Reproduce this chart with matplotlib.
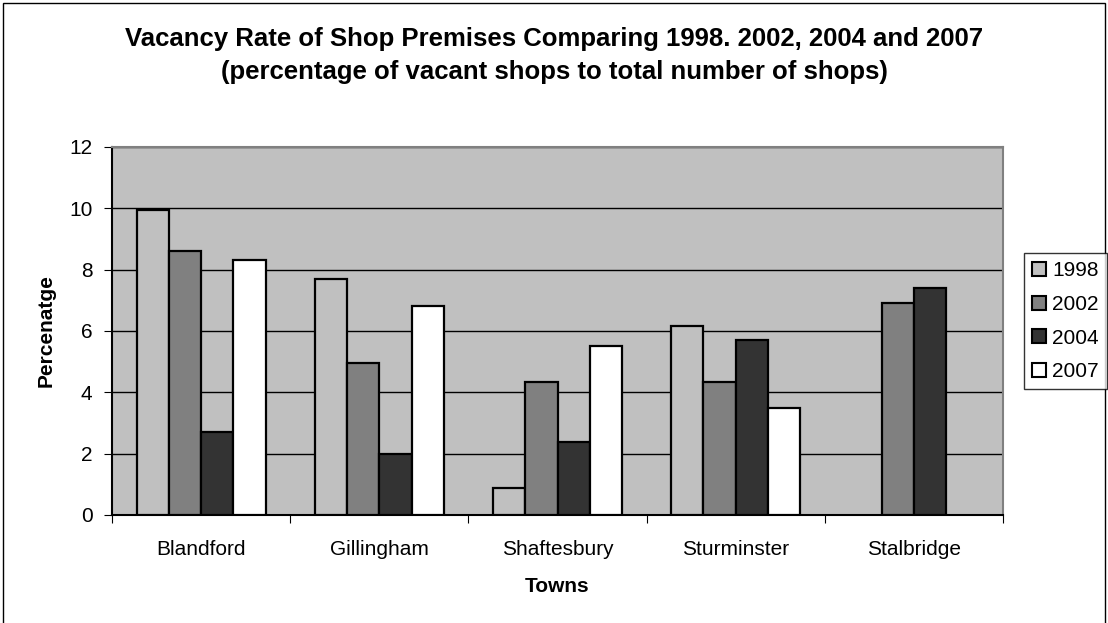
import numpy as np
import matplotlib
matplotlib.use("Agg")
import matplotlib.pyplot as plt
from matplotlib.patches import Rectangle, Patch

plt.rcParams['font.family'] = ['Liberation Sans', 'DejaVu Sans']

towns = ["Blandford", "Gillingham", "Shaftesbury", "Sturminster", "Stalbridge"]
years = ["1998", "2002", "2004", "2007"]
v1998 = [9.95, 7.7, 0.88, 6.15, np.nan]
v2002 = [8.6, 4.95, 4.35, 4.35, 6.9]
v2004 = [2.72, 1.98, 2.38, 5.7, 7.4]
v2007 = [8.3, 6.8, 5.5, 3.48, np.nan]
series = [v1998, v2002, v2004, v2007]
colors = ["#C0C0C0", "#808080", "#333333", "#FFFFFF"]
yticks = [0, 2, 4, 6, 8, 10, 12]

W, H = 1108, 623
fig = plt.figure(figsize=(W / 100, H / 100), dpi=100)
ax = fig.add_axes([112 / W, 1 - 515 / H, (1003 - 112) / W, (515 - 147) / H])
ax.set_facecolor("#C0C0C0")

n = len(series)
bw = 0.181
x = np.arange(len(towns))
for i, (vals, c) in enumerate(zip(series, colors)):
    offs = (i - (n - 1) / 2) * bw
    ax.bar(x + offs, vals, width=bw, color=c, edgecolor="black", linewidth=1.6, zorder=3)

fs = 15
ax.set_xlim(-0.5, len(towns) - 0.5)
ax.set_ylim(0, 12)
ax.set_yticks(yticks)
ax.set_yticklabels([str(t) for t in yticks], fontsize=fs)
ax.set_xticks(np.arange(len(towns) + 1) - 0.5)
ax.set_xticklabels([])
ax.set_xticks(x, minor=True)
ax.set_xticklabels(towns, minor=True, fontsize=fs)
ax.tick_params(axis="x", which="minor", length=0, pad=18)
ax.tick_params(axis="x", which="major", length=6, direction="out", color="black")
ax.tick_params(axis="y", length=6, direction="out", pad=8)
ax.yaxis.grid(True, color="black", linewidth=1.0, zorder=0)
ax.set_axisbelow(True)
ax.spines["left"].set_color("black")
ax.spines["bottom"].set_color("black")
ax.spines["top"].set_color("#808080")
ax.spines["right"].set_color("#808080")
for s in ax.spines.values():
    s.set_linewidth(1.5)

ax.set_xlabel("Towns", fontsize=fs, fontweight="bold", labelpad=13)
ax.set_ylabel("Percenatge", fontsize=fs, fontweight="bold", labelpad=10)

fig.text(0.5, 1 - 46 / H, "Vacancy Rate of Shop Premises Comparing 1998. 2002, 2004 and 2007",
         ha="center", va="baseline", fontsize=18.5, fontweight="bold")
fig.text(0.5, 1 - 79 / H, "(percentage of vacant shops to total number of shops)",
         ha="center", va="baseline", fontsize=18.5, fontweight="bold")

handles = [Patch(facecolor=c, edgecolor="black", linewidth=1.5) for c in colors]
leg = fig.legend(handles, years, loc="upper left", bbox_to_anchor=(1024 / W, 1 - 253 / H),
                 fontsize=15, frameon=True, fancybox=False, edgecolor="black",
                 handlelength=0.65, handleheight=0.65, handletextpad=0.3,
                 borderpad=0.4, labelspacing=0.7, borderaxespad=0)
leg.get_frame().set_linewidth(1.0)

fig.patches.append(Rectangle((2.5 / W, -0.05), (1105 - 2.5) / W, 1.05 - 3 / H,
                             transform=fig.transFigure, fill=False, edgecolor="black",
                             linewidth=1.0))

fig.savefig("out.png", dpi=100)
